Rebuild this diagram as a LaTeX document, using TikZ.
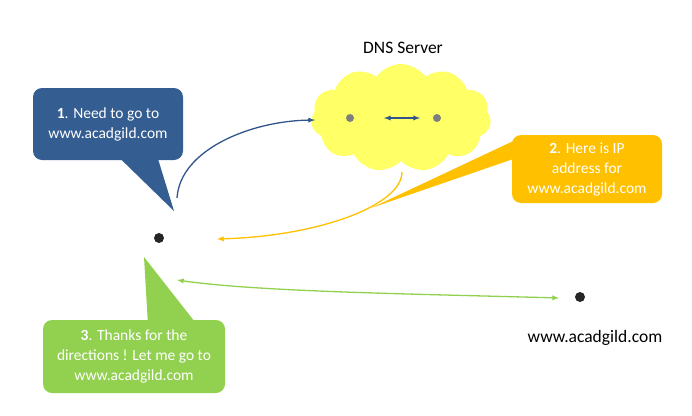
\documentclass[tikz,border=0pt]{standalone}
\usepackage{fontspec}
\setmainfont{Carlito}
\usetikzlibrary{shapes.symbols,calc}
\definecolor{bubbleblue}{RGB}{52,93,145}
\definecolor{arrowblue}{RGB}{47,85,140}
\definecolor{bubbleorange}{RGB}{255,192,0}
\definecolor{bubblegreen}{RGB}{146,208,80}
\definecolor{cloudyellow}{RGB}{255,255,102}
\definecolor{dotdark}{RGB}{38,38,38}
\definecolor{dotgray}{RGB}{127,127,127}
\tikzset{
    bubble/.style={rounded corners=9pt, text=white, align=center,
        font=\fontsize{15.5}{20}\selectfont, inner sep=0pt},
    dot/.style={circle, inner sep=0pt, minimum size=10pt, fill=dotdark},
    label text/.style={font=\fontsize{17.5}{21}\selectfont, text=black},
    link/.style={line width=1.3pt, -latex}
}
\begin{document}
\begin{tikzpicture}[x=1pt,y=-1pt]
    \useasboundingbox (0,0) rectangle (692,415);
    \node[label text] (dnslabel) at (403,48) {DNS Server};
    \node[cloud, cloud puffs=11, cloud puff arc=110, aspect=1.7, fill=cloudyellow,
        minimum width=180pt, minimum height=108pt, inner sep=0pt] (dns) at (401,118) {};
    \node[dot, fill=dotgray, minimum size=8pt] (srva) at (350,118) {};
    \node[dot, fill=dotgray, minimum size=8pt] (srvb) at (437,118) {};
    \coordinate (pa) at (384,118);
    \coordinate (pb) at (420,118);
    \draw[link, latex-latex, arrowblue] (pa) -- (pb);
    \node[dot] (client) at (159,238) {};
    \node[dot] (site) at (580,297) {};
    \node[label text] (sitelabel) at (595,338) {www.acadgild.com};
    \node[bubble, fill=bubbleblue, minimum width=150pt, minimum height=72pt] (ask) at (108,124)
        {\textbf{1}. Need to go to\\www.acadgild.com};
    \coordinate (asktip) at (174,211);
    \fill[bubbleblue] ($(ask.south west)+(87,-2)$) -- (asktip) -- ($(ask.south west)+(125,-2)$) -- cycle;
    \node[bubble, fill=bubbleorange, minimum width=150pt, minimum height=68pt] (answer) at (587,169)
        {\textbf{2}. Here is IP\\address for\\www.acadgild.com};
    \coordinate (answertip) at (371,208);
    \fill[bubbleorange] ($(answer.north west)+(2,6)$) -- (answertip) -- ($(answer.north west)+(2,24)$) -- cycle;
    \node[bubble, fill=bubblegreen, minimum width=182pt, minimum height=73pt] (thanks) at (134,356.5)
        {\textbf{3}. Thanks for the\\directions ! Let me go to\\www.acadgild.com};
    \coordinate (thankstip) at (144,257);
    \fill[bubblegreen] ($(thanks.north west)+(105,2)$) -- (thankstip) -- ($(thanks.north west)+(152,2)$) -- cycle;
    \coordinate (askstart) at (177,198);
    \coordinate (askend) at (315,120);
    \draw[link, arrowblue] (askstart) .. controls (180,150) and (250,121) .. (askend);
    \coordinate (answerstart) at (402,172);
    \coordinate (answerend) at (217,239);
    \draw[link, bubbleorange] (answerstart) .. controls (402,205) and (320,236) .. (answerend);
    \coordinate (gostart) at (177,280);
    \coordinate (goend) at (559,298);
    \draw[link, latex-latex, bubblegreen] (gostart) .. controls (260,292) and (420,294) .. (goend);
\end{tikzpicture}
\end{document}
